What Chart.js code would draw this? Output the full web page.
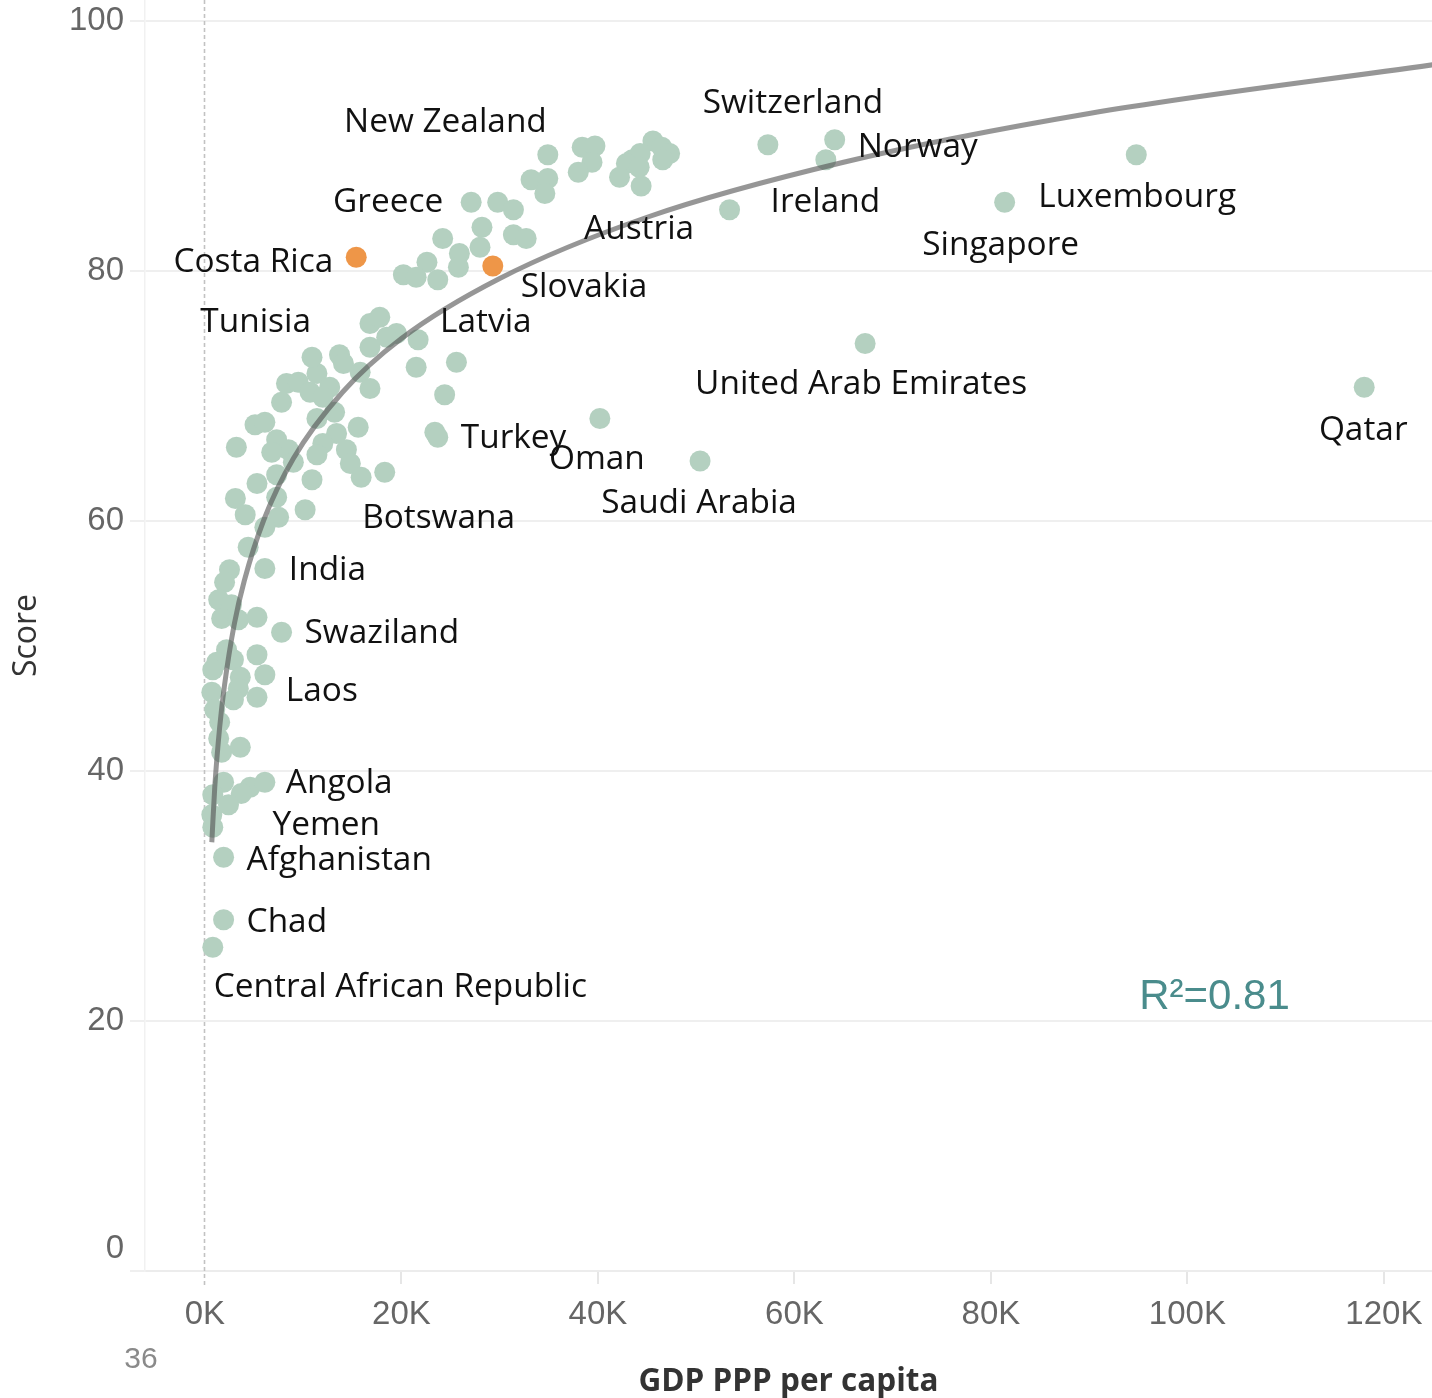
<!DOCTYPE html>
<html>
<head>
<meta charset="utf-8">
<title>Score vs GDP PPP per capita</title>
<script src="https://cdn.jsdelivr.net/npm/chart.js@4.4.1/dist/chart.umd.min.js"></script>
<style>
  html, body { margin: 0; padding: 0; background: #ffffff; }
  canvas { display: block; }
</style>
</head>
<body>
<canvas id="chart" width="1432" height="1398"></canvas>
<script>
// ---- data: GDP PPP per capita (USD) and score ----

// countries without a text label
const otherGdp = [
  38400, 39700, 39400, 38000, 45600, 46500, 47300, 46600, 43500, 44300,
  42900, 44200, 42200, 33200, 34900, 34600, 29800, 31400, 28200, 31400,
  32700, 24200, 28000, 25900, 25800, 22600, 20200, 21500, 23700, 63200,
  16800, 17800, 19500, 18500, 16800, 13700, 14100, 11400, 15800, 8300,
  9500, 10700, 12700, 7800, 12000, 16800, 21500, 25600, 24400, 13200,
  11400, 5100, 6100, 23400, 15600, 13400, 12000, 14400, 11400, 7300,
  8500, 6800, 3200, 9000, 14800, 18300, 7300, 5300, 10900, 3100,
  7300, 10200, 4100, 7500, 6100, 4400, 2500, 2000, 1400, 2700,
  5300, 1700, 3400, 2200, 5300, 1200, 2900, 3600, 800, 700,
  3400, 5300, 2900, 1000, 1500, 1400, 1700, 3600, 1900, 4600,
  3700, 800, 700, 800
];
const otherScore = [
  89.9, 90.0, 88.7, 87.9, 90.4, 89.9, 89.4, 88.9, 88.9, 89.4,
  88.6, 88.3, 87.5, 87.3, 87.4, 86.2, 85.5, 84.9, 83.5, 82.9,
  82.6, 82.6, 81.9, 81.4, 80.3, 80.7, 79.7, 79.5, 79.3, 88.9,
  75.8, 76.3, 75.0, 74.7, 73.9, 73.3, 72.6, 71.8, 71.9, 71.0,
  71.1, 70.3, 70.7, 69.5, 69.9, 70.6, 72.3, 72.7, 70.1, 68.7,
  68.2, 67.7, 67.9, 67.1, 67.5, 67.0, 66.2, 65.7, 65.3, 66.5,
  65.7, 65.5, 65.9, 64.7, 64.6, 63.9, 63.7, 63.0, 63.3, 61.8,
  61.9, 60.9, 60.5, 60.3, 59.5, 57.9, 56.1, 55.1, 53.7, 53.3,
  52.3, 52.2, 52.1, 49.7, 49.3, 48.7, 48.9, 47.5, 48.1, 46.3,
  46.6, 45.9, 45.7, 44.9, 43.9, 42.6, 41.5, 41.9, 39.1, 38.7,
  38.2, 38.1, 36.5, 35.5
];

// labelled countries
const namedCountries = [
  'New Zealand', 'Greece', 'Tunisia', 'Latvia', 'Switzerland', 'Norway',
  'Ireland', 'Austria', 'Luxembourg', 'Singapore', 'United Arab Emirates',
  'Qatar', 'Turkey', 'Oman', 'Saudi Arabia', 'Botswana', 'India',
  'Swaziland', 'Laos', 'Angola', 'Yemen', 'Afghanistan', 'Chad',
  'Central African Republic'
];
const namedGdp = [
  34900, 27100, 10900, 21700, 57300, 64100,
  53400, 44400, 94800, 81400, 67200,
  118000, 23700, 40200, 50400, 15900, 6100,
  7800, 6100, 6100, 2400, 1900, 1900,
  800
];
const namedScore = [
  89.3, 85.5, 73.1, 74.5, 90.1, 90.5,
  84.9, 86.8, 89.3, 85.5, 74.2,
  70.7, 66.7, 68.2, 64.8, 63.5, 56.2,
  51.1, 47.7, 39.1, 37.3, 33.1, 28.1,
  25.9
];

// highlighted countries
const highlightCountries = ['Costa Rica', 'Slovakia'];
const highlightGdp = [15400, 29300];
const highlightScore = [81.1, 80.4];

// logarithmic trend curve, sampled along its length
const trendGdp = [700, 1000, 1500, 2000, 3000, 4000, 6000, 9000, 14000, 20000, 30000, 45000, 65000, 90000, 125000];
const trendScore = [34.3, 38.7, 43.5, 46.9, 51.8, 55.2, 60.1, 65.0, 70.3, 74.6, 79.4, 84.3, 88.7, 92.6, 96.5];
const rSquared = '0.81';

// axes
const xTicks = [0, 20000, 40000, 60000, 80000, 100000, 120000];
const yTicks = [0, 20, 40, 60, 80, 100];
const xTitle = 'GDP PPP per capita';
const yTitle = 'Score';
const footNote = '36';

// ---- presentation ----
const GREEN = '#b4d0c0';
const ORANGE = '#ee9648';
const LABEL_FONT = '33.4px "Open Sans"';
const TICK_FAMILY = '"Liberation Sans", Arial, sans-serif';

// label placement relative to its point: pixel offset and alignment
const labelPlacement = {
  'New Zealand': [-1, -35, 'right'],
  'Greece': [-28, -2, 'right'],
  'Tunisia': [-1, -37, 'right'],
  'Latvia': [22, -20, 'left'],
  'Switzerland': [25, -44, 'center'],
  'Norway': [23, 5, 'left'],
  'Ireland': [41, -10, 'left'],
  'Austria': [-2, 41, 'center'],
  'Luxembourg': [-98, 40, 'left'],
  'Singapore': [-4, 41, 'center'],
  'United Arab Emirates': [-4, 38, 'center'],
  'Qatar': [-1, 41, 'center'],
  'Turkey': [23, -1, 'left'],
  'Oman': [-3, 38, 'center'],
  'Saudi Arabia': [-1, 40, 'center'],
  'Botswana': [1, 39, 'left'],
  'India': [24, -1, 'left'],
  'Swaziland': [23, -1, 'left'],
  'Laos': [21, 14, 'left'],
  'Angola': [21, -1, 'left'],
  'Yemen': [44, 18, 'left'],
  'Afghanistan': [23, 1, 'left'],
  'Chad': [23, 0, 'left'],
  'Central African Republic': [1, 38, 'left'],
  'Costa Rica': [-23, 3, 'right'],
  'Slovakia': [28, 19, 'left']
};

const toPoints = (xs, ys) => xs.map((x, i) => ({ x: x, y: ys[i] }));

const greenPoints = toPoints(otherGdp, otherScore).concat(toPoints(namedGdp, namedScore));
const orangePoints = toPoints(highlightGdp, highlightScore);
const trendPoints = toPoints(trendGdp, trendScore);

// dashed reference line at GDP = 0, drawn beneath the marks
const zeroLinePlugin = {
  id: 'zeroLine',
  beforeDatasetsDraw(chart) {
    const { ctx, scales: { x }, chartArea } = chart;
    const px = Math.round(x.getPixelForValue(0)) - 0.5;
    ctx.save();
    ctx.strokeStyle = '#c2c2c2';
    ctx.lineWidth = 1.6;
    ctx.setLineDash([4, 3]);
    ctx.beginPath();
    ctx.moveTo(px, 0);
    ctx.lineTo(px, chartArea.bottom + 14);
    ctx.stroke();
    ctx.restore();
  }
};

// country names, R² and footnote
const annotationPlugin = {
  id: 'annotations',
  afterDatasetsDraw(chart) {
    const { ctx, scales: { x, y }, chartArea } = chart;
    ctx.save();
    ctx.font = LABEL_FONT;
    ctx.fillStyle = '#111111';
    ctx.textBaseline = 'alphabetic';
    const drawLabel = (name, gx, sy) => {
      const p = labelPlacement[name];
      ctx.textAlign = p[2];
      ctx.fillText(name, x.getPixelForValue(gx) + p[0], y.getPixelForValue(sy) + p[1] + 12);
    };
    namedCountries.forEach((n, i) => drawLabel(n, namedGdp[i], namedScore[i]));
    highlightCountries.forEach((n, i) => drawLabel(n, highlightGdp[i], highlightScore[i]));

    ctx.font = '42px ' + TICK_FAMILY;
    ctx.fillStyle = '#4a8c8c';
    ctx.textAlign = 'left';
    ctx.fillText('R\u00B2=' + rSquared, x.getPixelForValue(95100), y.getPixelForValue(21.0));

    ctx.font = '30px ' + TICK_FAMILY;
    ctx.fillStyle = '#8a8a8a';
    ctx.textAlign = 'center';
    ctx.fillText(footNote, chartArea.left - 4, chartArea.bottom + 97);
    ctx.restore();
  }
};

function build() {
  new Chart(document.getElementById('chart'), {
    type: 'scatter',
    data: {
      datasets: [
        {
          label: 'Trend',
          type: 'line',
          data: trendPoints,
          showLine: true,
          borderColor: 'rgba(80,80,80,0.6)',
          borderWidth: 5,
          borderCapStyle: 'butt',
          pointRadius: 0,
          fill: false,
          cubicInterpolationMode: 'monotone',
          order: 0
        },
        {
          label: 'Highlighted',
          data: orangePoints,
          backgroundColor: ORANGE,
          borderWidth: 0,
          pointRadius: 10.5,
          order: 1
        },
        {
          label: 'Countries',
          data: greenPoints,
          backgroundColor: GREEN,
          borderWidth: 0,
          pointRadius: 10.5,
          order: 2
        }
      ]
    },
    options: {
      responsive: false,
      devicePixelRatio: 1,
      animation: false,
      layout: { padding: 0, autoPadding: false },
      plugins: {
        legend: { display: false },
        tooltip: { enabled: false }
      },
      scales: {
        x: {
          type: 'linear',
          min: -6100,
          max: 124900,
          afterBuildTicks: s => { s.ticks = xTicks.map(v => ({ value: v })); },
          afterFit: s => { s.height = 127; s.paddingLeft = 0; s.paddingRight = 0; },
          ticks: {
            color: '#666666',
            font: { family: TICK_FAMILY, size: 33 },
            padding: 11,
            maxRotation: 0,
            autoSkip: false,
            callback: v => (v / 1000) + 'K'
          },
          grid: {
            drawOnChartArea: false,
            drawTicks: true,
            tickLength: 13,
            lineWidth: 2,
            color: c => (c.tick && c.tick.value === 0) ? 'rgba(0,0,0,0)' : '#e6e6e6'
          },
          border: { display: true, color: '#ececec', width: 2 },
          title: {
            display: true,
            text: xTitle,
            color: '#333333',
            font: { family: '"Open Sans"', size: 31.5, weight: 'bold', lineHeight: 1 },
            padding: { top: 0, bottom: 0 }
          }
        },
        y: {
          type: 'linear',
          min: 0,
          max: 101.68,
          afterBuildTicks: s => { s.ticks = yTicks.map(v => ({ value: v })); },
          afterFit: s => { s.width = 145; s.paddingTop = 0; s.paddingBottom = 0; },
          ticks: {
            color: '#666666',
            padding: 6,
            font: c => ({
              family: TICK_FAMILY,
              size: 33,
              lineHeight: (c.tick && c.tick.value === 0) ? 1.35 : 1.2
            }),
            callback: v => (v === 0 ? ['0', ''] : String(v))
          },
          grid: {
            drawOnChartArea: true,
            drawTicks: true,
            tickLength: 15,
            lineWidth: 2,
            color: '#efefef'
          },
          border: { display: true, color: '#f1f1f1', width: 1.5 },
          title: {
            display: true,
            text: yTitle,
            color: '#333333',
            font: { family: '"Open Sans"', size: 32, lineHeight: 1 },
            padding: { top: 11, bottom: 0 }
          }
        }
      }
    },
    plugins: [zeroLinePlugin, annotationPlugin]
  });
}

const fontsReady = document.fonts
  ? Promise.all([
      document.fonts.load('33.4px "Open Sans"'),
      document.fonts.load('bold 31.5px "Open Sans"'),
      document.fonts.load('33px "Liberation Sans"')
    ]).catch(() => null)
  : Promise.resolve();
fontsReady.then(build);
</script>
</body>
</html>
